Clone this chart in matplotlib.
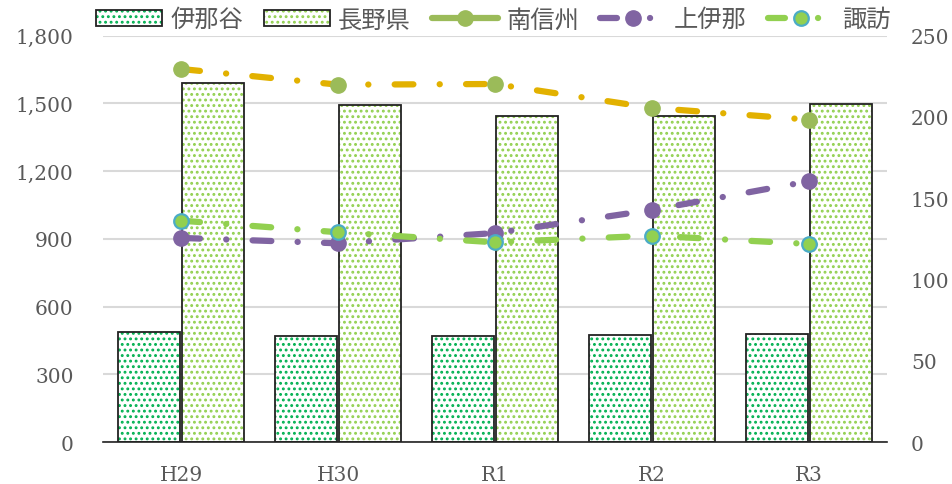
import matplotlib
matplotlib.use("Agg")
import matplotlib.pyplot as plt
import numpy as np
from matplotlib.lines import Line2D
from matplotlib.patches import Rectangle
from matplotlib.legend_handler import HandlerTuple
from matplotlib.ticker import FuncFormatter

# ---- data ----
years = ["H29", "H30", "R1", "R2", "R3"]
inadani = [489, 470, 472, 475, 479]          # 伊那谷 (left axis)
nagano = [1591, 1494, 1442, 1445, 1497]      # 長野県 (left axis)
minami_shinshu = [229.4, 219.8, 220.2, 205.5, 198.3]  # 南信州 (right axis)
kami_ina = [125.6, 122.3, 128.6, 142.8, 160.4]        # 上伊那 (right axis)
suwa = [136.2, 129.1, 122.9, 127.0, 121.9]            # 諏訪 (right axis)

left_ticks = [0, 300, 600, 900, 1200, 1500, 1800]
right_ticks = [0, 50, 100, 150, 200, 250]

# ---- style ----
plt.rcParams["lines.scale_dashes"] = False
plt.rcParams["hatch.linewidth"] = 1.3
serif = ["DejaVu Serif"]
cjk = ["Noto Sans CJK JP", "DejaVu Sans"]
gray = "#595959"
c_inadani = "#00B050"
c_nagano = "#92D050"
c_olive = "#9BBB59"
c_gold = "#E2B100"
c_purple = "#8064A2"
c_lime = "#92D050"
c_blue = "#4BACC6"

fig = plt.figure(figsize=(9.52, 4.85), dpi=100)
ax = fig.add_axes([0.108, 0.086, 0.824, 0.8387])
ax2 = ax.twinx()

x = np.arange(len(years))
w = 0.395
off = 0.203

# bars: hatched fill + black outline drawn separately
hatch = "..."
ax.bar(x - off, inadani, w, color="white", edgecolor=c_inadani, hatch=hatch, linewidth=0, zorder=2)
ax.bar(x - off, inadani, w, fill=False, edgecolor="#222222", linewidth=1.3, zorder=3)
ax.bar(x + off, nagano, w, color="white", edgecolor=c_nagano, hatch=hatch, linewidth=0, zorder=2)
ax.bar(x + off, nagano, w, fill=False, edgecolor="#222222", linewidth=1.3, zorder=3)

ax.set_xlim(-0.5, len(years) - 0.5)
ax.set_ylim(0, 1800)
ax.set_yticks(left_ticks)
ax.yaxis.set_major_formatter(FuncFormatter(lambda v, p: f"{int(v):,}"))
ax.grid(axis="y", color="#D9D9D9", linewidth=1.5, zorder=0)
ax.set_axisbelow(True)
for s in ["top", "left", "right"]:
    ax.spines[s].set_visible(False)
ax.spines["bottom"].set_color("#222222")
ax.spines["bottom"].set_linewidth(1.2)
ax.spines["bottom"].set_zorder(4)
ax.set_xticks(x)
ax.set_xticklabels(years)
ax.tick_params(axis="x", length=0, pad=16, labelsize=14.5, labelcolor=gray)
ax.tick_params(axis="y", length=0, pad=21, labelsize=14.5, labelcolor=gray)
for lab in ax.get_xticklabels() + ax.get_yticklabels():
    lab.set_family(serif)

# lines on the right axis
lw = 4.5
dashdot = (0, (13.5, 18.9, 0.1, 18.9))
ax2.plot(x, minami_shinshu, color=c_gold, lw=lw, linestyle=dashdot,
         dash_capstyle="round", marker="o", markersize=11,
         markerfacecolor=c_olive, markeredgecolor=c_olive, zorder=3)
ax2.plot(x, kami_ina, color=c_purple, lw=lw, linestyle=dashdot,
         dash_capstyle="round", marker="o", markersize=11,
         markerfacecolor=c_purple, markeredgecolor=c_purple, zorder=4)
ax2.plot(x, suwa, color=c_lime, lw=lw, linestyle=dashdot,
         dash_capstyle="round", marker="o", markersize=10.5,
         markerfacecolor=c_lime, markeredgecolor=c_blue, markeredgewidth=1.6, zorder=5)
ax2.set_ylim(0, 250)
ax2.set_yticks(right_ticks)
for s in ["top", "left", "right", "bottom"]:
    ax2.spines[s].set_visible(False)
ax2.tick_params(axis="y", length=0, pad=17, labelsize=14.5, labelcolor=gray)
for lab in ax2.get_yticklabels():
    lab.set_family(serif)

# legend
def bar_handle(c):
    return (Rectangle((0, 0), 1, 1, facecolor="white", edgecolor=c, hatch=hatch, linewidth=0),
            Rectangle((0, 0), 1, 1, fill=False, edgecolor="#222222", linewidth=1.3))

leg_dash = (0, (12.2, 23.8, 0.07, 72))
handles = [
    bar_handle(c_inadani),
    bar_handle(c_nagano),
    Line2D([], [], color=c_olive, lw=lw, solid_capstyle="round", marker="o",
           markersize=11, markerfacecolor=c_olive, markeredgecolor=c_olive),
    Line2D([], [], color=c_purple, lw=lw, linestyle=leg_dash,
           dash_capstyle="round", marker="o", markersize=11,
           markerfacecolor=c_purple, markeredgecolor=c_purple),
    Line2D([], [], color=c_lime, lw=lw, linestyle=leg_dash,
           dash_capstyle="round", marker="o", markersize=10.5,
           markerfacecolor=c_lime, markeredgecolor=c_blue, markeredgewidth=1.6),
]
labels = ["伊那谷", "長野県", "南信州", "上伊那", "諏訪"]
leg = fig.legend(handles, labels, loc="center", bbox_to_anchor=(0.518, 0.958),
                 ncol=5, frameon=False, handlelength=2.75, handletextpad=0.32,
                 columnspacing=0.85, handleheight=0.65, numpoints=1,
                 borderpad=0, borderaxespad=0,
                 handler_map={tuple: HandlerTuple(ndivide=1, pad=0)},
                 prop={"family": cjk, "size": 17.5})
for t in leg.get_texts():
    t.set_color(gray)

fig.savefig("out.png", dpi=100)
